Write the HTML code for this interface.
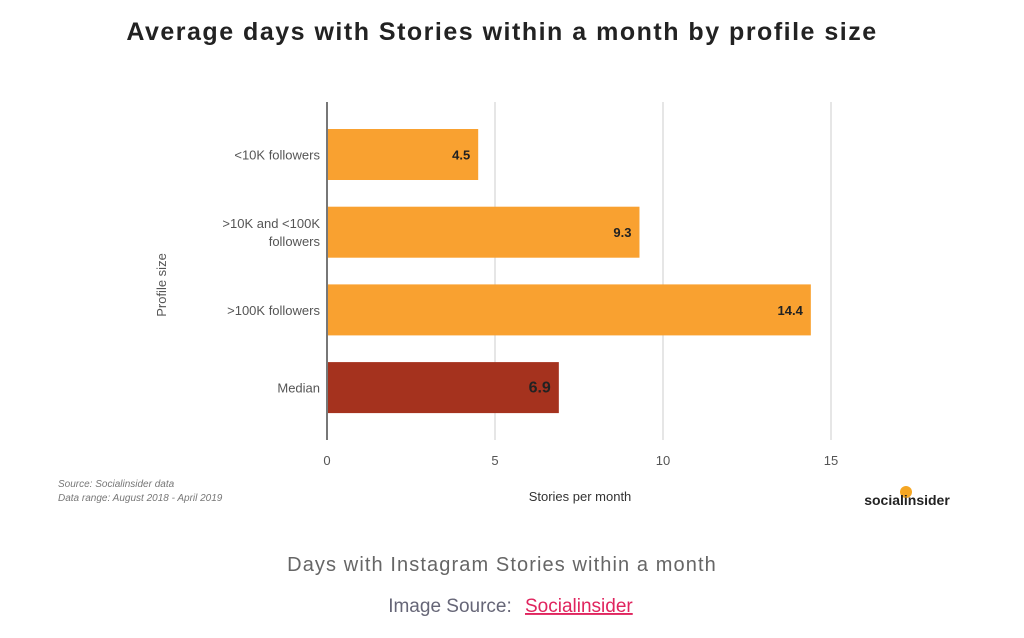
<!DOCTYPE html>
<html><head><meta charset="utf-8"><style>
body{margin:0;background:#fff;width:1024px;height:638px;overflow:hidden;font-family:"Liberation Sans",sans-serif}
svg{position:absolute;left:0;top:0}
</style></head><body>
<svg width="1024" height="638">
<text x="502" y="40" text-anchor="middle" font-size="25" font-weight="bold" letter-spacing="1.5" fill="#222">Average days with Stories within a month by profile size</text>
<g id="grid"></g>
<g id="bars"></g>
<line x1="327" y1="102" x2="327" y2="440" stroke="#777" stroke-width="2"/>
<text transform="translate(166,285) rotate(-90)" text-anchor="middle" font-size="13" fill="#555">Profile size</text>
<text x="580" y="501" text-anchor="middle" font-size="13" fill="#333">Stories per month</text>
<text x="58" y="487" font-size="10" font-style="italic" fill="#777">Source: Socialinsider data</text>
<text x="58" y="501" font-size="10" font-style="italic" fill="#777">Data range: August 2018 - April 2019</text>
<circle cx="906" cy="492" r="6" fill="#F5A623"/>
<text x="907" y="505" text-anchor="middle" font-size="14" font-weight="bold" fill="#222">socialinsider</text>
<text x="502" y="571" text-anchor="middle" font-size="20" letter-spacing="1.1" fill="#666">Days with Instagram Stories within a month</text>
<text x="450" y="612" font-size="19" fill="#667" text-anchor="middle">Image Source:</text>
<text x="525" y="612" font-size="19" fill="#e0245e" text-decoration="underline">Socialinsider</text>
</svg>
<script>
const categories=["<10K followers",">10K and <100K|followers",">100K followers","Median"];
const values=[4.5,9.3,14.4,6.9];
const labels=["4.5","9.3","14.4","6.9"];
const ticks=[0,5,10,15];
const NS="http://www.w3.org/2000/svg";
const x0=327,pxPer=33.6;
const xs=v=>x0+v*pxPer;
function yb(i){return 129+i*77.7;}
const grid=document.getElementById('grid'),bars=document.getElementById('bars');
function mk(t,a){const e=document.createElementNS(NS,t);for(const k in a)e.setAttribute(k,a[k]);return e;}
ticks.forEach(t=>{
 if(t>0){const l=mk('line',{x1:xs(t),x2:xs(t),y1:102,y2:440,stroke:'#ccc','stroke-width':1});
 
 
 grid.appendChild(l);}
 const tx=mk('text',{x:xs(t),y:465,'text-anchor':'middle','font-size':13,fill:'#555'});tx.textContent=t;
 
 
 grid.appendChild(tx);
});
values.forEach((v,i)=>{
 const y=yb(i),h=51,med=i===3;
 const r=mk('rect',{x:x0,y:y,width:xs(v)-x0,height:h,fill:med?'#A5321E':'#F9A130'});
 
 
 bars.appendChild(r);
 const vl=mk('text',{x:xs(v)-8,y:y+h/2+5,'text-anchor':'end','font-size':med?16:13,'font-weight':'bold',fill:'#222'});
 vl.textContent=labels[i];
 
 
 bars.appendChild(vl);
 const parts=categories[i].split('|');
 parts.forEach((p,j)=>{
  const c=mk('text',{x:320,y:y+h/2+5+(j-(parts.length-1)/2)*18,'text-anchor':'end','font-size':13,fill:'#555'});
  c.textContent=p;
  
  
  bars.appendChild(c);
 });
});
</script>
</body></html>
